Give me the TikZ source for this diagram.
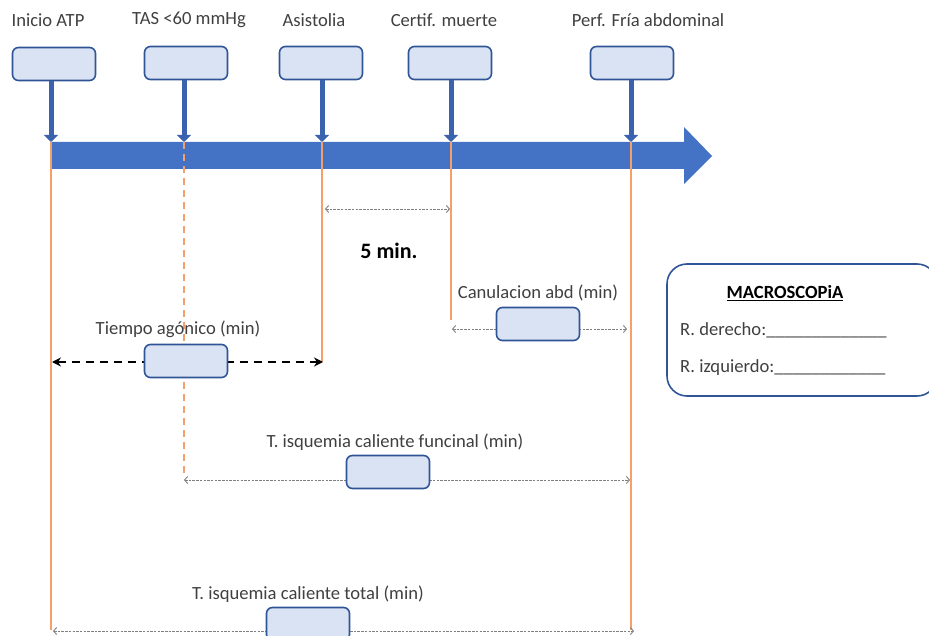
\documentclass[tikz,border=0pt]{standalone}
\usepackage{fontspec}
\setmainfont{Carlito}
\usetikzlibrary{arrows.meta,positioning}

\definecolor{boxfill}{HTML}{DAE3F3}
\definecolor{boxline}{HTML}{2F5597}
\definecolor{barblue}{HTML}{4472C4}
\definecolor{dropblue}{HTML}{3A62AE}
\definecolor{tickorange}{HTML}{F4A06A}
\definecolor{txtgray}{HTML}{404040}
\definecolor{measgray}{HTML}{7F7F7F}

\tikzset{
  tbox/.style={draw=boxline, fill=boxfill, line width=1.6pt, rounded corners=6pt,
    minimum width=83pt, minimum height=33pt, inner sep=0pt},
  lbl/.style={text=txtgray, font=\fontsize{18.6}{22}\selectfont, inner sep=0pt},
  drop/.style={draw=dropblue, line width=5pt, -{Triangle[width=14pt,length=7pt]}},
  tick/.style={draw=tickorange, line width=1.6pt},
  dtick/.style={tick, dash pattern=on 7pt off 5pt},
  meas/.style={draw=measgray, line width=0.9pt, dash pattern=on 2.5pt off 1.2pt,
    {Straight Barb[length=3pt,width=7pt]}-{Straight Barb[length=3pt,width=7pt]}},
  agon/.style={draw=black, line width=2pt, dash pattern=on 8pt off 6pt,
    {Stealth[length=9pt,width=9pt]}-{Stealth[length=9pt,width=9pt]}}
}

\begin{document}
\begin{tikzpicture}[x=1pt,y=-1pt]
\useasboundingbox (0,0) rectangle (929,636);

\fill[barblue] (51,142) -- (684,142) -- (684,127) -- (712,156) -- (684,184)
  -- (684,169) -- (51,169) -- cycle;

\node[lbl] (l1) at (48,20) {Inicio ATP};
\node[lbl] (l2) at (189,20) {TAS <60 mmHg};
\node[lbl] (l3) at (314,20) {Asistolia};
\node[lbl] (l4) at (444,20) {Certif. muerte};
\node[lbl] (l5) at (648,20) {Perf. Fría abdominal};

\node[tbox] (s1) at (54,64) {};
\node[tbox] (s2) at (186,63) {};
\node[tbox] (s3) at (321,63) {};
\node[tbox] (s4) at (450,63) {};
\node[tbox] (s5) at (632,63) {};

\coordinate (b1) at (51,142);  \coordinate (e1) at (51,630);
\coordinate (b2) at (184,142); \coordinate (e2) at (184,476);
\coordinate (b3) at (322,142); \coordinate (e3) at (322,362);
\coordinate (b4) at (451,142); \coordinate (e4) at (451,320);
\coordinate (b5) at (631,142); \coordinate (e5) at (631,630);

\foreach \i in {1,...,5}
  \draw[drop] (b\i |- s\i.south) -- (b\i);

\draw[tick] (b1) -- (e1);
\draw[dtick] (b2) -- (e2);
\draw[tick] (b3) -- (e3);
\draw[tick] (b4) -- (e4);
\draw[tick] (b5) -- (e5);

\coordinate (m1a) at (325,209); \coordinate (m1b) at (450,209);
\draw[meas] (m1a) -- (m1b);
\node[font=\fontsize{22}{26}\selectfont\bfseries, inner sep=0pt] (cinco) at (389,251) {5 min.};

\coordinate (m2a) at (452,329); \coordinate (m2b) at (627,329);
\draw[meas] (m2a) -- (m2b);
\node[lbl] (lcan) at (538,293) {Canulacion abd (min)};
\node[tbox] (bcan) at (538,324) {};

\coordinate (m3a) at (52,362); \coordinate (m3b) at (323,362);
\draw[agon] (m3a) -- (m3b);
\node[lbl] (lago) at (178,329) {Tiempo agónico (min)};
\node[tbox] (bago) at (186,361) {};

\coordinate (m4a) at (184,480); \coordinate (m4b) at (630,480);
\draw[meas] (m4a) -- (m4b);
\node[lbl] (lfun) at (395,442) {T. isquemia caliente funcinal (min)};
\node[tbox] (bfun) at (388,472) {};

\coordinate (m5a) at (53,631); \coordinate (m5b) at (634,631);
\draw[meas] (m5a) -- (m5b);
\node[lbl] (ltot) at (308,594) {T. isquemia caliente total (min)};
\node[tbox] (btot) at (308,624) {};

\node[draw=boxline, line width=1.6pt, rounded corners=20pt, minimum width=270pt,
  minimum height=132pt] (macro) at (802,330) {};
\node[lbl, font=\fontsize{18.6}{22}\selectfont\bfseries, text=black] (mtit) at (785,293) {\underline{MACROSCOPiA}};
\node[lbl, anchor=west] (rder) at (680,330) {R. derecho:\_\_\_\_\_\_\_\_\_\_\_\_\_};
\node[lbl, anchor=west] (rizq) at (680,368) {R. izquierdo:\_\_\_\_\_\_\_\_\_\_\_\_};
\end{tikzpicture}
\end{document}
